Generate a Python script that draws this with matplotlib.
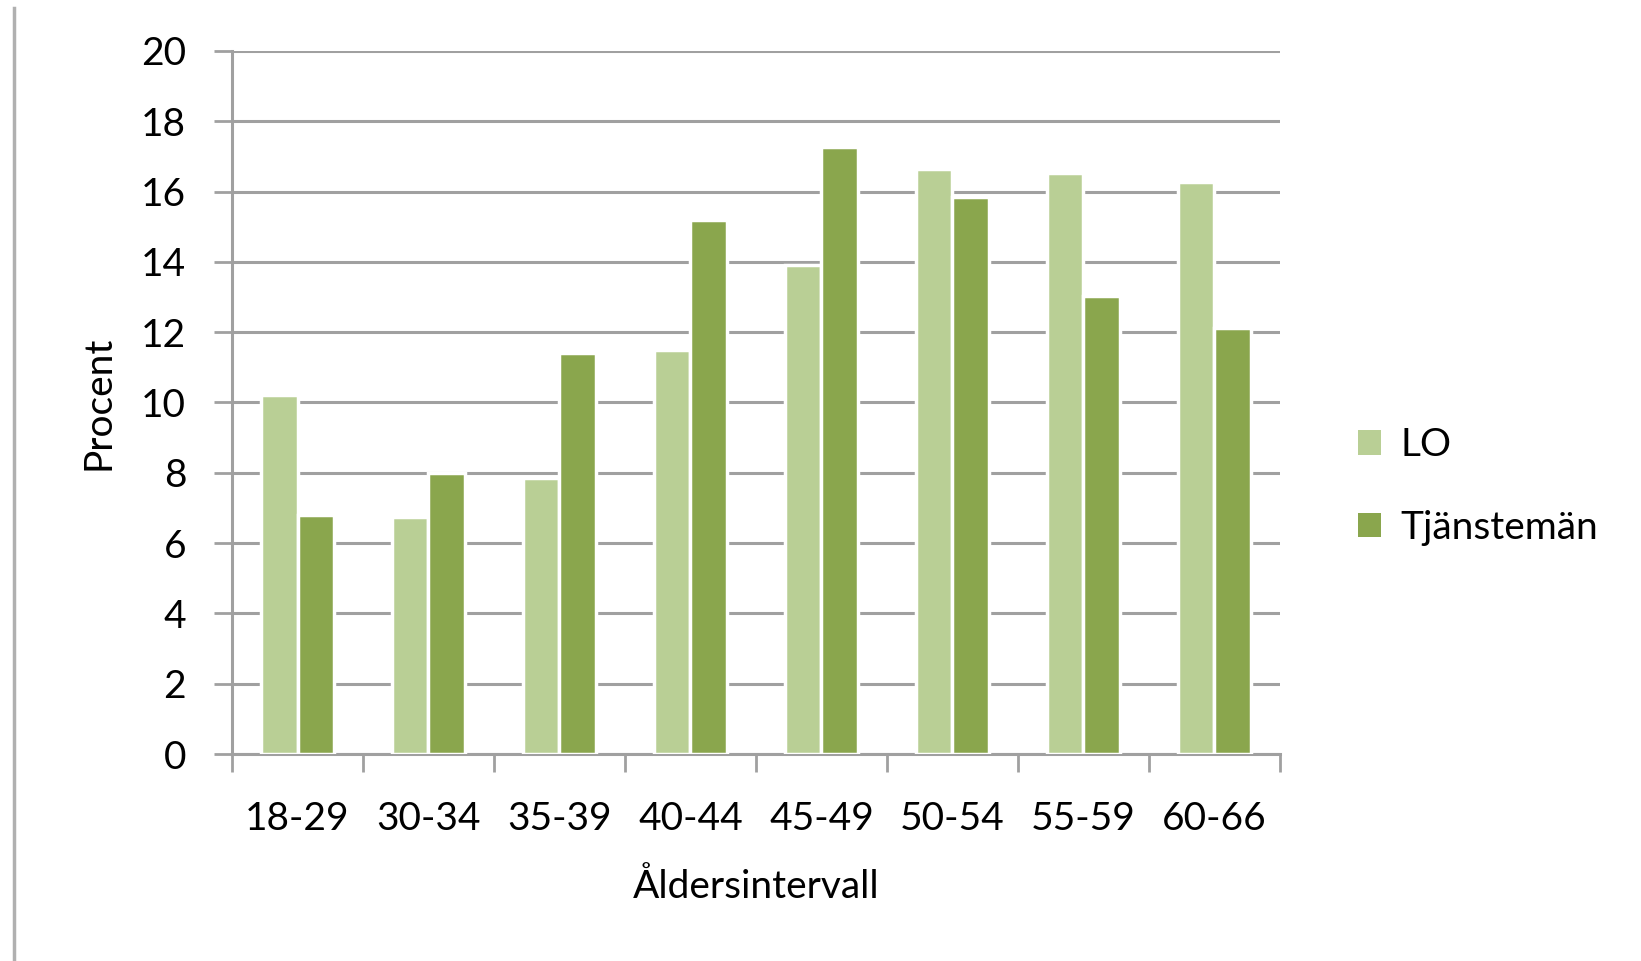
import numpy as np
import matplotlib.pyplot as plt
from matplotlib import patheffects as pe
from matplotlib.lines import Line2D
from matplotlib.patches import Patch

# === Data ===
kategorier = ['18-29', '30-34', '35-39', '40-44', '45-49', '50-54', '55-59', '60-66']
lo = [10.2, 6.75, 7.85, 11.5, 13.9, 16.64, 16.52, 16.27]
tjanstemän = [6.8, 8.0, 11.4, 15.2, 17.26, 15.84, 13.03, 12.12]
serier = ['LO', 'Tjänstemän']
yticks = [0, 2, 4, 6, 8, 10, 12, 14, 16, 18, 20]

färg_lo = '#b9cf95'
färg_tj = '#8aa64d'
grå = '#a0a0a0'

plt.rcParams['font.family'] = ['Lato', 'DejaVu Sans']

fig = plt.figure(figsize=(16.41, 9.61), dpi=100)
ax = fig.add_axes([0.1414, 0.2154, 0.6385, 0.7316])

x = np.arange(len(kategorier))
bredd = 0.278
skugga = [pe.SimplePatchShadow(offset=(1.5, -1.5), shadow_rgbFace='#888888', alpha=0.35), pe.Normal()]
b1 = ax.bar(x - bredd / 2, lo, bredd, color=färg_lo, edgecolor='white', linewidth=2.5, zorder=3)
b2 = ax.bar(x + bredd / 2, tjanstemän, bredd, color=färg_tj, edgecolor='white', linewidth=2.5, zorder=3)
for bar in list(b1) + list(b2):
    bar.set_path_effects(skugga)

# === Axlar ===
ax.set_xlim(-0.5, len(kategorier) - 0.5)
ax.set_ylim(0, 20)
ax.set_yticks(yticks)
ax.set_yticklabels([str(v) for v in yticks])
ax.yaxis.grid(True, color=grå, linewidth=2.2, zorder=0)
ax.set_axisbelow(True)

ax.set_xticks(np.arange(len(kategorier) + 1) - 0.5, minor=False)
ax.set_xticklabels([''] * (len(kategorier) + 1))
ax.set_xticks(x, minor=True)
ax.set_xticklabels(kategorier, minor=True)
ax.tick_params(axis='x', which='minor', length=0, labelsize=28, pad=34)
ax.tick_params(axis='x', which='major', length=13, width=2, color=grå)
ax.tick_params(axis='y', length=13, width=2, color=grå, labelsize=28, pad=20)

for s in ['top', 'right']:
    ax.spines[s].set_visible(False)
for s in ['left', 'bottom']:
    ax.spines[s].set_color(grå)
    ax.spines[s].set_linewidth(2.2)

ax.set_xlabel('Åldersintervall', fontsize=28, labelpad=23)
ax.set_ylabel('Procent', fontsize=28, labelpad=18)

handtag = [Patch(facecolor=färg_lo, edgecolor='none'), Patch(facecolor=färg_tj, edgecolor='none')]
ax.legend(handtag, serier, loc='center left', bbox_to_anchor=(0.806, 0.494), bbox_transform=fig.transFigure,
          frameon=False, fontsize=28, handlelength=0.6, handleheight=0.6,
          handletextpad=0.5, labelspacing=1.2)

# vertikal linje till vänster
fig.add_artist(Line2D([14 / 1641, 14 / 1641], [0, 1 - 8 / 961], color='#b0b0b0', linewidth=2.5,
                      transform=fig.transFigure))

fig.savefig('out.png', dpi=100)
